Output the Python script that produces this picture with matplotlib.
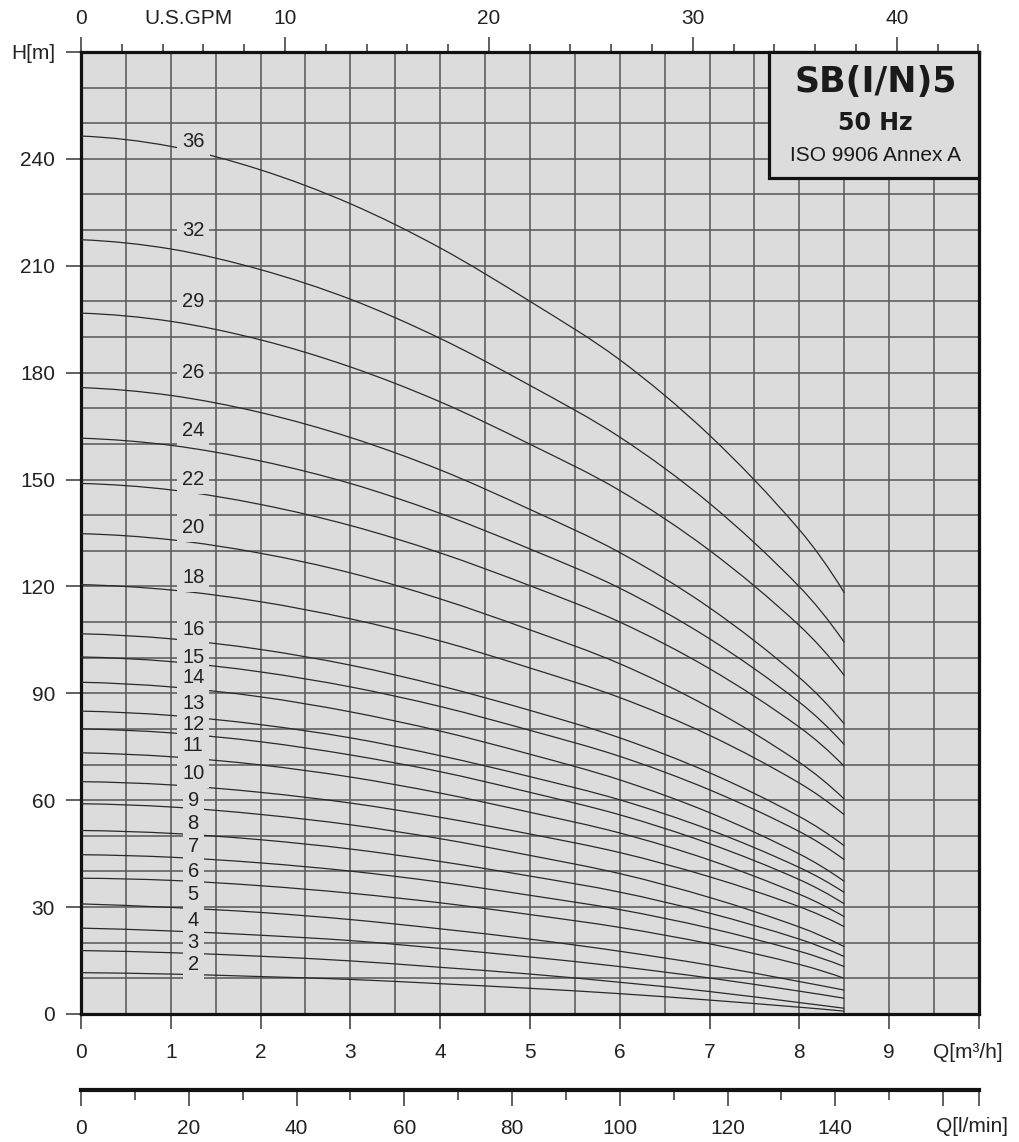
import matplotlib.pyplot as plt
from matplotlib.patches import Rectangle, PathPatch
from matplotlib.path import Path
import numpy as np

plt.rcParams['font.family'] = ['Liberation Sans', 'DejaVu Sans']

# flow points (m3/h) where heads were read
q = [0, 1, 2, 3, 4, 5, 6, 7, 8, 8.5]

# head (m) per number of stages
stages = [36, 32, 29, 26, 24, 22, 20, 18, 16, 15, 14, 13, 12, 11, 10, 9, 8, 7, 6, 5, 4, 3, 2]
h36 = [246.4, 243.5, 236.9, 227.4, 215.0, 200.0, 183.6, 162.4, 135.9, 118.2]
h32 = [217.3, 214.7, 208.9, 200.6, 189.6, 176.4, 161.9, 143.3, 119.9, 104.3]
h29 = [196.7, 194.4, 189.2, 181.6, 171.8, 159.9, 146.9, 130.1, 109.0, 95.0]
h26 = [175.8, 173.6, 168.8, 161.8, 152.7, 141.6, 129.5, 114.0, 94.4, 81.4]
h24 = [161.6, 159.6, 155.2, 148.9, 140.5, 130.5, 119.5, 105.3, 87.5, 75.6]
h22 = [148.9, 147.1, 143.0, 137.1, 129.4, 120.2, 110.0, 96.9, 80.5, 69.5]
h20 = [134.8, 133.1, 129.3, 123.8, 116.5, 107.8, 98.3, 86.0, 70.6, 60.3]
h18 = [120.5, 119.0, 115.7, 110.9, 104.7, 97.1, 88.8, 78.2, 64.8, 55.9]
h16 = [106.7, 105.3, 102.3, 97.9, 92.1, 85.2, 77.5, 67.7, 55.4, 47.2]
h15 = [100.2, 98.9, 96.0, 91.8, 86.3, 79.6, 72.3, 62.9, 51.2, 43.3]
h14 = [93.1, 91.8, 89.0, 84.8, 79.4, 72.9, 65.7, 56.5, 44.9, 37.2]
h13 = [85.0, 83.8, 81.2, 77.5, 72.5, 66.6, 60.1, 51.7, 41.1, 34.1]
h12 = [80.0, 78.9, 76.4, 72.7, 68.0, 62.2, 55.9, 47.8, 37.7, 30.9]
h11 = [73.3, 72.2, 69.9, 66.5, 62.0, 56.6, 50.8, 43.2, 33.6, 27.3]
h10 = [65.2, 64.3, 62.2, 59.2, 55.2, 50.5, 45.3, 38.5, 30.1, 24.5]
h9 = [59.0, 58.1, 56.0, 53.1, 49.2, 44.5, 39.4, 32.7, 24.4, 18.9]
h8 = [51.5, 50.7, 48.9, 46.3, 42.8, 38.7, 34.2, 28.3, 21.0, 16.1]
h7 = [44.7, 44.0, 42.4, 40.1, 37.0, 33.3, 29.3, 24.1, 17.6, 13.3]
h6 = [38.1, 37.5, 36.0, 33.9, 31.2, 27.9, 24.3, 19.7, 13.9, 10.0]
h5 = [30.9, 29.9, 28.5, 26.5, 23.9, 21.0, 17.6, 13.7, 9.1, 6.7]
h4 = [24.1, 23.3, 22.1, 20.6, 18.4, 16.0, 13.3, 10.1, 6.4, 4.4]
h3 = [17.8, 17.2, 16.2, 14.9, 13.1, 11.2, 8.9, 6.3, 3.2, 1.6]
h2 = [11.6, 11.2, 10.5, 9.7, 8.5, 7.2, 5.7, 3.9, 1.9, 0.8]
heads = [h36, h32, h29, h26, h24, h22, h20, h18, h16, h15, h14, h13, h12, h11,
         h10, h9, h8, h7, h6, h5, h4, h3, h2]

# where the stage numbers sit
label_q = 1.25
label_h = [244.8, 220, 200, 180, 163.8, 150, 136.6, 122.5, 107.9, 100, 94.4, 87.1,
           81.2, 75.3, 67.4, 60, 53.4, 46.9, 40, 33.4, 26.1, 20, 13.8]

bg = '#dcdcdc'
gridc = '#5a5a5a'
tickc = '#444'
txtc = '#222'


def smooth_path(x, y):
    # cubic bezier through the read points
    x = np.asarray(x, float)
    y = np.asarray(y, float)
    n = len(x)
    sec = np.diff(y) / np.diff(x)
    m = np.zeros(n)
    m[1:-1] = (y[2:] - y[:-2]) / (x[2:] - x[:-2])
    m[0] = 2 * sec[0] - m[1]
    m[-1] = 2 * sec[-1] - m[-2]
    verts = [(x[0], y[0])]
    codes = [Path.MOVETO]
    for i in range(n - 1):
        h = x[i + 1] - x[i]
        verts += [(x[i] + h / 3, y[i] + m[i] * h / 3),
                  (x[i + 1] - h / 3, y[i + 1] - m[i + 1] * h / 3),
                  (x[i + 1], y[i + 1])]
        codes += [Path.CURVE4] * 3
    return Path(verts, codes)


fig = plt.figure(figsize=(10.2, 11.42), dpi=100)
ax = fig.add_axes([0.0794, 0.1121, 0.8804, 0.8424])
ax.set_facecolor(bg)
ax.set_xlim(0, 10)
ax.set_ylim(0, 270)

ax.set_xticks(range(0, 11))
ax.set_xticklabels([str(i) for i in range(10)] + [''])
ax.set_xticks(np.arange(0, 10.01, 0.5), minor=True)
ax.set_yticks(list(range(0, 241, 30)) + [270])
ax.set_yticklabels([str(v) for v in range(0, 241, 30)] + ['H[m]'])
ax.set_yticks(range(0, 271, 10), minor=True)
ax.tick_params(which='major', direction='out', length=10.5, width=1.2, color=tickc,
               labelsize=15, pad=8.2, labelcolor=txtc)
ax.tick_params(axis='x', which='major', pad=10.7)
ax.tick_params(which='minor', length=0)
ax.grid(which='both', color=gridc, lw=1.15)
ax.set_axisbelow(True)
for s in ax.spines.values():
    s.set_linewidth(2.3)
    s.set_color('#111')

for st, h in zip(stages, heads):
    ax.add_patch(PathPatch(smooth_path(q, h), fill=False, ec='#2a2a2a', lw=0.9, zorder=3))
for st, yh in zip(stages, label_h):
    ax.text(label_q, yh, str(st), fontsize=14.5, ha='center', va='center', color=txtc,
            zorder=4, bbox=dict(boxstyle='square,pad=0.25', fc=bg, ec='none'))

# title box
ax.add_patch(Rectangle((7.66, 234.7), 2.34, 35.3, fc=bg, ec='#111', lw=2.3, zorder=5,
                       clip_on=False))
ax.text(8.85, 261.7, 'SB(I/N)5', fontsize=25, fontweight='bold', family='DejaVu Sans',
        ha='center', va='center', color='#1a1a1a', zorder=6)
ax.text(8.85, 250.1, '50 Hz', fontsize=17, fontweight='bold', family='DejaVu Sans',
        ha='center', va='center', color='#1a1a1a', zorder=6)
ax.text(8.85, 240.9, 'ISO 9906 Annex A', fontsize=15, ha='center', va='center',
        color='#1a1a1a', zorder=6)

# US GPM axis on top
gpm = 4.4029
top = ax.secondary_xaxis('top', functions=(lambda x: x * gpm, lambda g: g / gpm))
top.set_xticks([0, 10, 20, 30, 40])
top.set_xticks(range(0, 45, 2), minor=True)
top.tick_params(which='major', direction='out', length=10.5, width=1.2, color=tickc,
                labelsize=15, pad=6.8, labelcolor=txtc)
top.tick_params(which='minor', direction='out', length=6, width=1.2, color=tickc)
top.spines['top'].set_visible(False)
fig.text(188 / 1020, 1 - 19 / 1142, 'U.S.GPM', fontsize=15, ha='center', va='center',
         color=txtc)

fig.text(968 / 1020, 1 - 1052 / 1142, 'Q[m³/h]', fontsize=15, ha='center',
         va='center', color=txtc)

# l/min axis below
ax2 = fig.add_axes([0.0794, 1 - 1090 / 1142, 0.8804, 0.0001])
ax2.set_xlim(0, 10 * 1000 / 60)
for k in ['left', 'right', 'top']:
    ax2.spines[k].set_visible(False)
ax2.spines['bottom'].set_linewidth(3)
ax2.spines['bottom'].set_color('#111')
ax2.set_yticks([])
ax2.set_xticks(list(range(0, 161, 20)) + [10 * 1000 / 60])
ax2.set_xticklabels([str(v) for v in range(0, 141, 20)] + ['', ''])
ax2.set_xticks(range(10, 160, 20), minor=True)
ax2.tick_params(which='major', direction='out', length=11.3, width=1.2, color=tickc,
                labelsize=15, pad=9.7, labelcolor=txtc)
ax2.tick_params(which='minor', direction='out', length=7, width=1.2, color=tickc)
ax2.set_facecolor('none')
fig.text(972 / 1020, 1 - 1127 / 1142, 'Q[l/min]', fontsize=15, ha='center',
         va='center', color=txtc)

fig.savefig('out.png', dpi=100, facecolor='white')
